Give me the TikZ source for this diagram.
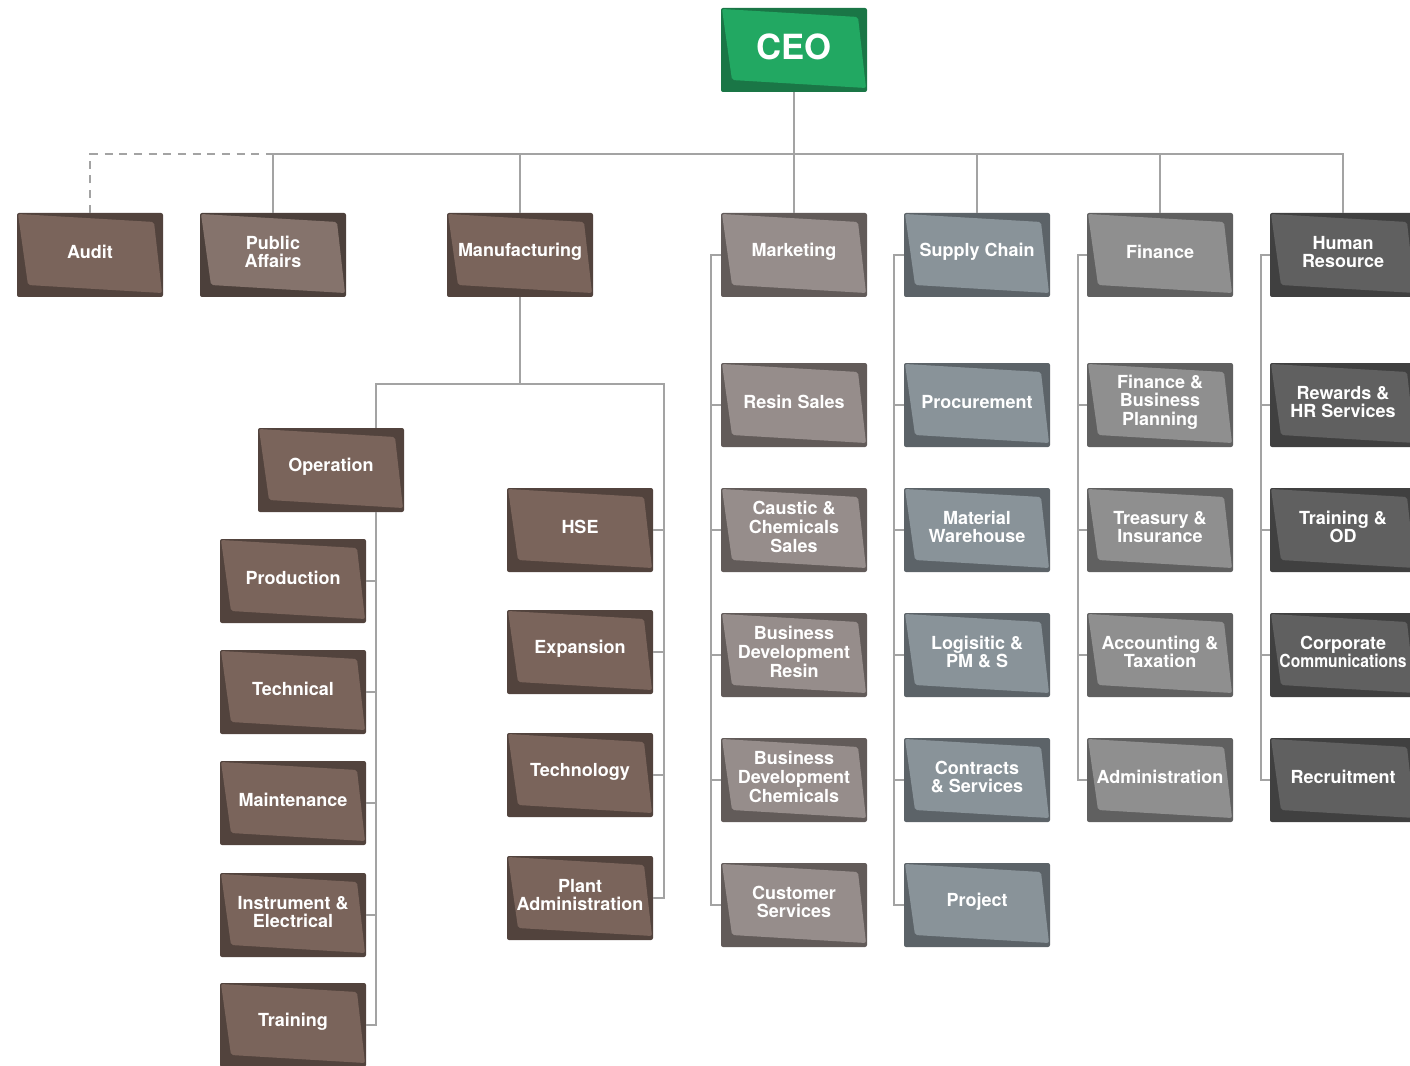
\documentclass[tikz,border=0pt]{standalone}
\usepackage{fontspec}
\setmainfont{TeX Gyre Heros}
\usetikzlibrary{calc}
\definecolor{brF}{HTML}{7A645B}\definecolor{brD}{HTML}{52433D}
\definecolor{paF}{HTML}{85736C}\definecolor{paD}{HTML}{4C403B}
\definecolor{mkF}{HTML}{968D8B}\definecolor{mkD}{HTML}{625B59}
\definecolor{scF}{HTML}{899399}\definecolor{scD}{HTML}{5C6368}
\definecolor{fiF}{HTML}{8F8F8F}\definecolor{fiD}{HTML}{606060}
\definecolor{hrF}{HTML}{606060}\definecolor{hrD}{HTML}{404040}
\definecolor{ceoF}{HTML}{22A862}\definecolor{ceoD}{HTML}{1A7646}
\definecolor{lineC}{HTML}{A3A3A3}
\tikzset{
  orgbox/.style={rectangle, rounded corners=1.5pt, minimum width=109.5pt, minimum height=63pt,
    inner sep=0pt},
  orgtext/.style={inner sep=0pt, text=white, align=center,
    font=\fontsize{13.5}{14}\selectfont\bfseries},
  conn/.style={draw=lineC, line width=1.5pt},
}
\newcommand{\obox}[6]{%
  \node[orgbox, fill=#5, path picture={
    \fill[#4] ($(path picture bounding box.north west)+(0.75pt,-0.75pt)$)
      -- ($(path picture bounding box.north east)+(-6.75pt,-6.75pt)$)
      -- ($(path picture bounding box.south east)+(-0.75pt,3pt)$)
      -- ($(path picture bounding box.south west)+(8.25pt,9pt)$) -- cycle;
  }] (#1) at (#2,#3) {};
  \node[orgtext] (#1-t) at ($(#1.center)+(0,2.25pt)$) {#6};}
\begin{document}
\begin{tikzpicture}[x=0.75pt,y=-0.75pt]
\useasboundingbox (0,0) rectangle (1410,1066);
% CEO
\obox{ceo}{794}{50}{ceoF}{ceoD}{\fontsize{26}{26}\selectfont CEO}
% row 1
\obox{audit}{90}{255}{brF}{brD}{Audit}
\obox{pa}{273}{255}{paF}{paD}{\fontsize{13.5}{16.5}\selectfont Public\\Affairs}
\obox{manu}{520}{255}{brF}{brD}{Manufacturing}
\obox{mkt}{794}{255}{mkF}{mkD}{Marketing}
\obox{sc}{977}{255}{scF}{scD}{Supply Chain}
\obox{fin}{1160}{255}{fiF}{fiD}{Finance}
\obox{hr}{1343}{255}{hrF}{hrD}{Human\\Resource}
% manufacturing subtree
\obox{op}{331}{470}{brF}{brD}{Operation}
\obox{prod}{293}{581}{brF}{brD}{Production}
\obox{tech}{293}{692}{brF}{brD}{Technical}
\obox{maint}{293}{803}{brF}{brD}{Maintenance}
\obox{instr}{293}{915}{brF}{brD}{Instrument \&\\Electrical}
\obox{train}{293}{1025}{brF}{brD}{Training}
\obox{hse}{580}{530}{brF}{brD}{HSE}
\obox{exp}{580}{652}{brF}{brD}{Expansion}
\obox{techn}{580}{775}{brF}{brD}{Technology}
\obox{plant}{580}{898}{brF}{brD}{Plant\\Administration}
% marketing
\obox{mk1}{794}{405}{mkF}{mkD}{Resin Sales}
\obox{mk2}{794}{530}{mkF}{mkD}{Caustic \&\\Chemicals\\Sales}
\obox{mk3}{794}{655}{mkF}{mkD}{Business\\Development\\Resin}
\obox{mk4}{794}{780}{mkF}{mkD}{Business\\Development\\Chemicals}
\obox{mk5}{794}{905}{mkF}{mkD}{Customer\\Services}
% supply chain
\obox{sc1}{977}{405}{scF}{scD}{Procurement}
\obox{sc2}{977}{530}{scF}{scD}{Material\\Warehouse}
\obox{sc3}{977}{655}{scF}{scD}{Logisitic \&\\PM \& S}
\obox{sc4}{977}{780}{scF}{scD}{Contracts\\\& Services}
\obox{sc5}{977}{905}{scF}{scD}{Project}
% finance
\obox{fi1}{1160}{405}{fiF}{fiD}{Finance \&\\Business\\Planning}
\obox{fi2}{1160}{530}{fiF}{fiD}{Treasury \&\\Insurance}
\obox{fi3}{1160}{655}{fiF}{fiD}{Accounting \&\\Taxation}
\obox{fi4}{1160}{780}{fiF}{fiD}{Administration}
% HR
\obox{hr1}{1343}{405}{hrF}{hrD}{Rewards \&\\HR Services}
\obox{hr2}{1343}{530}{hrF}{hrD}{Training \&\\OD}
\obox{hr3}{1343}{655}{hrF}{hrD}{Corporate\\\scalebox{0.87}[1]{Communications}}
\obox{hr4}{1343}{780}{hrF}{hrD}{Recruitment}
% coordinates
\coordinate (bus) at (794,154);
\coordinate (mbus) at (520,384);
\coordinate (opx) at (376,384);
\coordinate (hx) at (664,384);
\coordinate (mkx) at (711,255);
\coordinate (scx) at (894,255);
\coordinate (fix) at (1078,255);
\coordinate (hrx) at (1261,255);
% connectors
\begin{scope}[conn]
\draw (ceo.south) -- (mkt.north);
\draw (pa.north) |- (bus) -| (hr.north);
\draw (manu.north) -- (manu.north |- bus);
\draw (sc.north) -- (sc.north |- bus);
\draw (fin.north) -- (fin.north |- bus);
\draw[dashed, dash pattern=on 6pt off 5pt] (audit.north) |- (pa.north |- bus);
% manufacturing
\draw (manu.south) -- (mbus);
\draw (opx |- op.north) -- (opx) -- (hx) |- (plant.east);
\draw (opx |- op.south) |- (train.east);
\foreach \n in {prod,tech,maint,instr} \draw (\n.east) -- (\n.east -| opx);
\foreach \n in {hse,exp,techn} \draw (\n.east) -- (\n.east -| hx);
% columns
\draw (mkt.west) -- (mkx) |- (mk5.west);
\foreach \n in {mk1,mk2,mk3,mk4} \draw (\n.west) -- (\n.west -| mkx);
\draw (sc.west) -- (scx) |- (sc5.west);
\foreach \n in {sc1,sc2,sc3,sc4} \draw (\n.west) -- (\n.west -| scx);
\draw (fin.west) -- (fix) |- (fi4.west);
\foreach \n in {fi1,fi2,fi3} \draw (\n.west) -- (\n.west -| fix);
\draw (hr.west) -- (hrx) |- (hr4.west);
\foreach \n in {hr1,hr2,hr3} \draw (\n.west) -- (\n.west -| hrx);
\end{scope}
\end{tikzpicture}
\end{document}
